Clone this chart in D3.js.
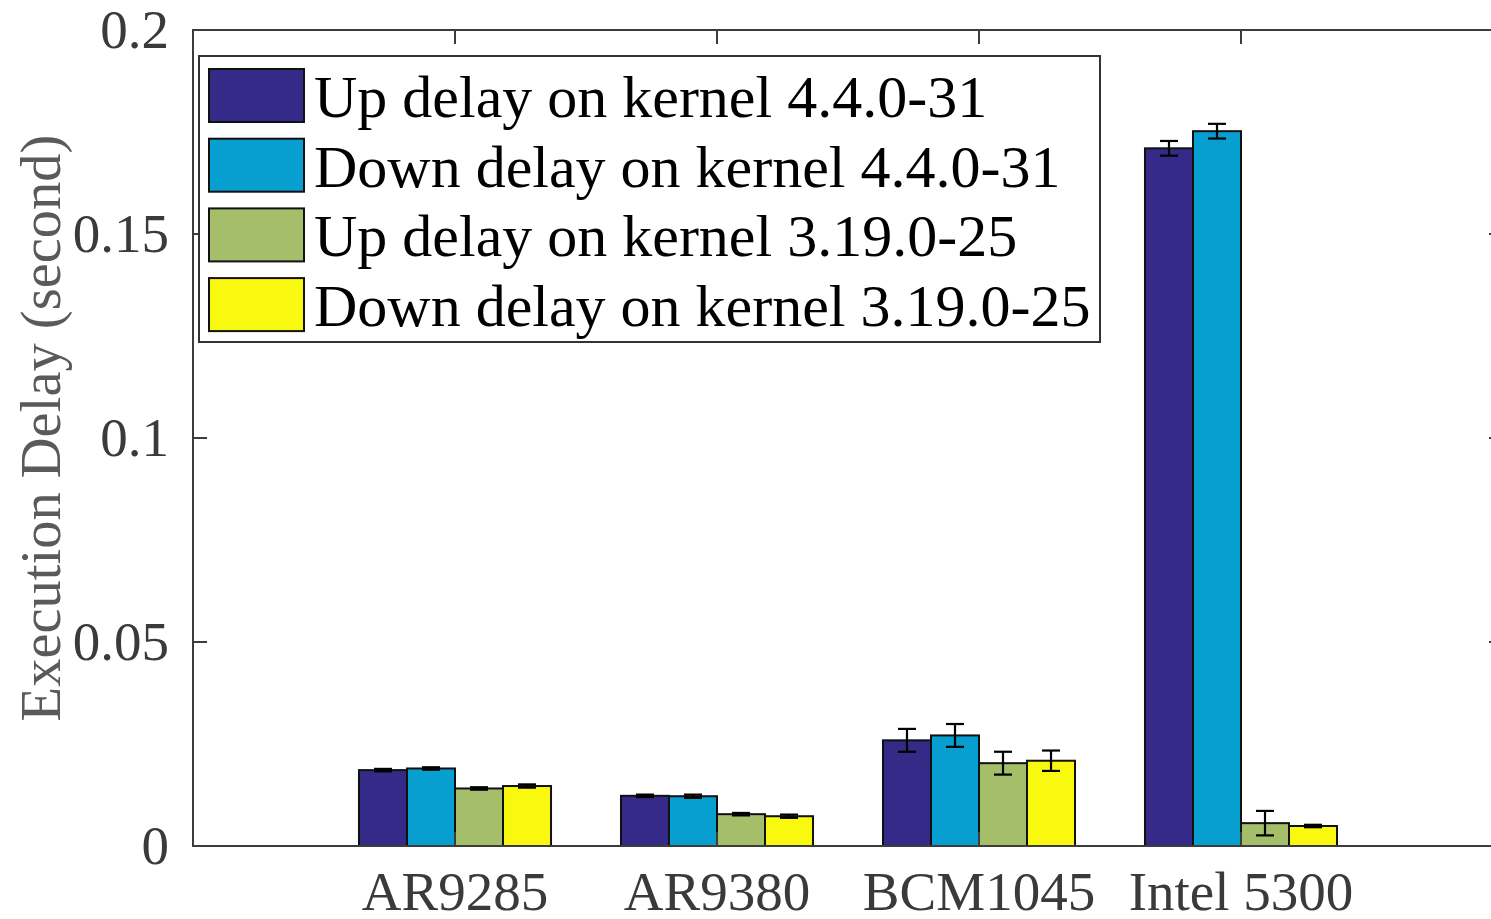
<!DOCTYPE html>
<html>
<head>
<meta charset="utf-8">
<script src="https://cdn.jsdelivr.net/npm/d3@7"></script>
<style>
  body { margin: 0; background: #fff; overflow: hidden; }
  text { font-family: "Liberation Serif", "Times New Roman", serif; }
</style>
</head>
<body>
<div class="board"></div>
<script>
var width = 1491, height = 919

// data
var chips = ["AR9285", "AR9380", "BCM1045", "Intel 5300"]
var seriesNames = ["Up delay on kernel 4.4.0-31", "Down delay on kernel 4.4.0-31",
    "Up delay on kernel 3.19.0-25", "Down delay on kernel 3.19.0-25"]
var seriesColors = ["#352a87", "#069fd0", "#a5be6a", "#f8f90e"]
var upNew = [0.0186, 0.0123, 0.0259, 0.1710]
var downNew = [0.0190, 0.0122, 0.0271, 0.1752]
var upOld = [0.0141, 0.0078, 0.0203, 0.0056]
var downOld = [0.0147, 0.0073, 0.0209, 0.0049]
var errUpNew = [0.0003, 0.0003, 0.0028, 0.0018]
var errDownNew = [0.0003, 0.0004, 0.0028, 0.0018]
var errUpOld = [0.0003, 0.0003, 0.0028, 0.0030]
var errDownOld = [0.0004, 0.0004, 0.0025, 0.0003]
var yTicks = [0, 0.05, 0.1, 0.15, 0.2]
var yTickLabels = ["0", "0.05", "0.1", "0.15", "0.2"]

var values = [upNew, downNew, upOld, downOld]
var errors = [errUpNew, errDownNew, errUpOld, errDownOld]

var svg = d3.select(".board")
    .append("svg")
    .attr("width", width)
    .attr("height", height)

// x goes 0..5, groups sit on 1..4 (right edge runs off the page like the original)
let xScale = d3.scaleLinear()
    .domain([0, 5])
    .range([193, 1503])

let yScale = d3.scaleLinear()
    .domain([0, 0.2])
    .range([846, 30])

let step = xScale(1) - xScale(0)
let inner = d3.scaleBand()
    .domain(d3.range(4))
    .range([-step * 0.3665, step * 0.3665])

let bars = []
values.forEach((s, si) => {
    s.forEach((v, gi) => {
        bars.push({ g: gi, s: si, v: v, e: errors[si][gi] })
    })
})

svg.selectAll(".bar")
    .data(bars)
    .enter()
    .append("rect")
    .attr("class", "bar")
    .attr("x", d => xScale(d.g + 1) + inner(d.s))
    .attr("width", inner.bandwidth())
    .attr("y", d => yScale(d.v))
    .attr("height", d => yScale(0) - yScale(d.v))
    .attr("fill", d => seriesColors[d.s])
    .attr("stroke", "#111")
    .attr("stroke-width", 2)

// error bars
let cap = 9
let eb = svg.selectAll(".err")
    .data(bars)
    .enter()
    .append("g")
    .attr("class", "err")
    .attr("stroke", "#000")
    .attr("stroke-width", 2.2)
    .attr("transform", d => `translate(${xScale(d.g + 1) + inner(d.s) + inner.bandwidth() / 2}, 0)`)

eb.append("line")
    .attr("x1", 0).attr("x2", 0)
    .attr("y1", d => yScale(d.v + d.e))
    .attr("y2", d => yScale(d.v - d.e))
eb.append("line")
    .attr("x1", -cap).attr("x2", cap)
    .attr("y1", d => yScale(d.v + d.e))
    .attr("y2", d => yScale(d.v + d.e))
eb.append("line")
    .attr("x1", -cap).attr("x2", cap)
    .attr("y1", d => yScale(d.v - d.e))
    .attr("y2", d => yScale(d.v - d.e))

// axes box
let axisColor = "#3c3c3c"
let x0 = xScale(0), x1 = xScale(5), y0 = yScale(0), y1 = yScale(0.2)

svg.append("path")
    .attr("fill", "none")
    .attr("stroke", axisColor)
    .attr("stroke-width", 2)
    .attr("d", `M${x0},${y1}H${x1}V${y0}H${x0}Z`)

// y ticks (inward, both sides)
svg.selectAll(".ytick")
    .data(yTicks)
    .enter()
    .append("path")
    .attr("stroke", axisColor)
    .attr("stroke-width", 2)
    .attr("d", d => `M${x0},${yScale(d)}h14M${x1},${yScale(d)}h-14`)

// x ticks on top
svg.selectAll(".xtick")
    .data(chips)
    .enter()
    .append("path")
    .attr("stroke", axisColor)
    .attr("stroke-width", 2)
    .attr("d", (d, i) => `M${xScale(i + 1)},${y1}v14M${xScale(i + 1)},${y0}v-14`)

svg.selectAll(".ylab")
    .data(yTicks)
    .enter()
    .append("text")
    .attr("x", 169)
    .attr("y", d => yScale(d) + 18)
    .attr("text-anchor", "end")
    .attr("font-size", 55)
    .attr("fill", "#3a3a3a")
    .text((d, i) => yTickLabels[i])

svg.selectAll(".xlab")
    .data(chips)
    .enter()
    .append("text")
    .attr("x", (d, i) => xScale(i + 1))
    .attr("y", 910)
    .attr("text-anchor", "middle")
    .attr("font-size", 55)
    .attr("fill", "#3a3a3a")
    .text(d => d)

svg.append("text")
    .attr("transform", `translate(60, 428) rotate(-90)`)
    .attr("text-anchor", "middle")
    .attr("font-size", 56.5)
    .attr("fill", "#5a5a5a")
    .text("Execution Delay (second)")

// legend
let legend = svg.append("g")
legend.append("rect")
    .attr("x", 199).attr("y", 56)
    .attr("width", 901).attr("height", 286)
    .attr("fill", "#fff")
    .attr("stroke", "#333")
    .attr("stroke-width", 2)

let rows = legend.selectAll(".row")
    .data(seriesNames)
    .enter()
    .append("g")
    .attr("transform", (d, i) => `translate(0, ${96 + i * 69.7})`)

rows.append("rect")
    .attr("x", 209).attr("y", -27)
    .attr("width", 95).attr("height", 53)
    .attr("fill", (d, i) => seriesColors[i])
    .attr("stroke", "#111")
    .attr("stroke-width", 2)

rows.append("text")
    .attr("x", 314)
    .attr("y", 21)
    .attr("font-size", 60)
    .attr("fill", "#000")
    .text(d => d)
</script>
</body>
</html>
